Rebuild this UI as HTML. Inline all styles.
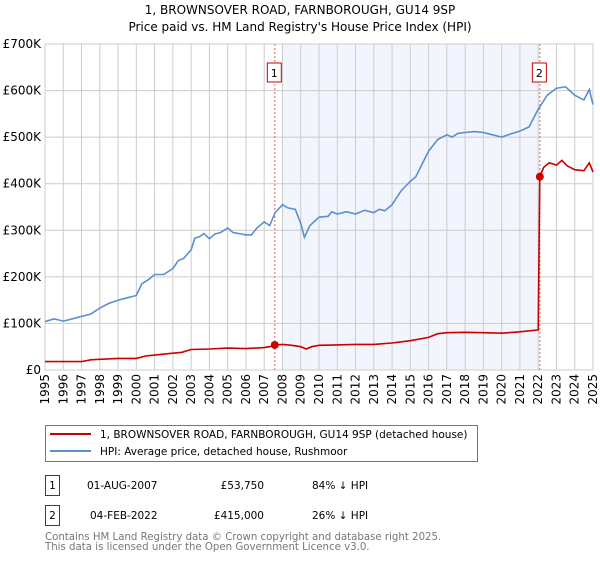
<!DOCTYPE html>
<html><head><meta charset="utf-8"><style>
body{margin:0;background:#fff;width:600px;height:560px;overflow:hidden;font-family:"DejaVu Sans","Liberation Sans",sans-serif}
svg text{font-family:"DejaVu Sans","Liberation Sans",sans-serif}
</style></head><body>
<svg id="c" width="600" height="560">
<text x="300" y="14" text-anchor="middle" font-size="12">1, BROWNSOVER ROAD, FARNBOROUGH, GU14 9SP</text>
<text x="300" y="31" text-anchor="middle" font-size="12">Price paid vs. HM Land Registry's House Price Index (HPI)</text>
<g id="plot"></g>
<rect x="45.5" y="425.5" width="432" height="36" fill="#fff" stroke="#777"/>
<line x1="50" y1="434" x2="91" y2="434" stroke="#cc0000" stroke-width="2"/>
<text x="100" y="438" font-size="10.5">1, BROWNSOVER ROAD, FARNBOROUGH, GU14 9SP (detached house)</text>
<line x1="50" y1="451" x2="91" y2="451" stroke="#5b8fd0" stroke-width="2"/>
<text x="100" y="455" font-size="10.5">HPI: Average price, detached house, Rushmoor</text>
<g font-size="10.5">
<rect x="45.5" y="475.5" width="14" height="20" fill="none" stroke="#cc0000"/>
<text x="52.5" y="489" text-anchor="middle">1</text>
<text x="87" y="489">01-AUG-2007</text>
<text x="264" y="489" text-anchor="end">£53,750</text>
<text x="312" y="489">84% ↓ HPI</text>
<rect x="45.5" y="505.5" width="14" height="20" fill="none" stroke="#cc0000"/>
<text x="52.5" y="519" text-anchor="middle">2</text>
<text x="90" y="519">04-FEB-2022</text>
<text x="264" y="519" text-anchor="end">£415,000</text>
<text x="312" y="519">26% ↓ HPI</text>
</g>
<text x="45" y="540" font-size="10.2" fill="#777">Contains HM Land Registry data © Crown copyright and database right 2025.</text>
<text x="45" y="550" font-size="10.2" fill="#777">This data is licensed under the Open Government Licence v3.0.</text>
</svg>
<script>
const hpiYears=[1995,1995.5,1996,1996.5,1997,1997.5,1998,1998.5,1999,1999.5,2000,2000.3,2000.7,2001,2001.5,2002,2002.3,2002.6,2003,2003.2,2003.5,2003.7,2004,2004.3,2004.6,2005,2005.3,2005.6,2006,2006.3,2006.6,2007,2007.3,2007.6,2008,2008.3,2008.7,2009,2009.2,2009.5,2010,2010.5,2010.7,2011,2011.5,2012,2012.5,2013,2013.3,2013.6,2014,2014.5,2015,2015.3,2016,2016.5,2017,2017.3,2017.6,2018,2018.5,2019,2019.5,2020,2020.5,2021,2021.5,2022,2022.5,2023,2023.5,2024,2024.5,2024.8,2025];
const hpiValues=[104,110,105,110,115,120,133,143,150,155,160,185,195,205,205,218,235,240,258,283,287,293,282,292,295,305,295,293,290,290,305,318,310,338,355,348,345,315,285,310,328,330,340,335,340,335,343,338,345,342,355,385,405,415,470,495,505,500,508,510,512,510,505,500,507,513,522,560,590,605,608,590,580,602,570];
const propYears=[1995,1997,1997.5,1998,1999,2000,2000.5,2001,2002,2002.5,2003,2004,2005,2006,2007,2007.3,2007.58,2008,2008.5,2009,2009.3,2009.6,2010,2011,2012,2013,2014,2015,2016,2016.5,2017,2018,2019,2020,2021,2022,2022.09,2022.3,2022.6,2023,2023.3,2023.6,2024,2024.5,2024.8,2025];
const propValues=[18,18,22,23,25,25,30,32,36,38,44,45,47,46,48,50,53.75,55,53,50,45,50,53,54,55,55,58,63,70,78,80,81,80,79,82,86,415,435,445,440,450,438,430,428,445,425];
const saleYears=[2007.58,2022.09];
const saleValues=[53.75,415];
const saleLabels=["1","2"];
const yTicks=[0,100,200,300,400,500,600,700];
const yTickLabels=["£0","£100K","£200K","£300K","£400K","£500K","£600K","£700K"];
const xTicks=[1995,1996,1997,1998,1999,2000,2001,2002,2003,2004,2005,2006,2007,2008,2009,2010,2011,2012,2013,2014,2015,2016,2017,2018,2019,2020,2021,2022,2023,2024,2025];

const X0=45,X1=593,Y0=370,Y1=44;
const sx=y=>X0+(y-1995)/30*(X1-X0);
const sy=v=>Y0-v/700*(Y0-Y1);
const NS="http://www.w3.org/2000/svg";
const g=document.getElementById('plot');
function mk(t,a){const e=document.createElementNS(NS,t);for(const k in a)e.setAttribute(k,a[k]);g.appendChild(e);return e;}
let e=mk('rect',{x:sx(2008),y:Y1,width:sx(2022)-sx(2008),height:Y0-Y1,fill:'#f2f5fd'});


xTicks.forEach(t=>{
 let l=mk('line',{x1:sx(t),x2:sx(t),y1:Y1,y2:Y0,stroke:'#cccccc'});
 
 
 let tx=mk('text',{x:0,y:0,'font-size':12,'text-anchor':'end',transform:`translate(${sx(t)+4},${Y0+4}) rotate(-90)`});
 tx.textContent=t;
 
 
});
yTicks.forEach((t,i)=>{
 let l=mk('line',{x1:X0,x2:X1,y1:sy(t),y2:sy(t),stroke:'#cccccc'});
 
 
 let tx=mk('text',{x:X0-4,y:sy(t)+4,'font-size':12,'text-anchor':'end'});
 tx.textContent=yTickLabels[i];
 
 
});
let ax=mk('rect',{x:X0,y:Y1,width:X1-X0,height:Y0-Y1,fill:'none',stroke:'#cccccc'});


saleYears.forEach((y,i)=>{
 let l=mk('line',{x1:sx(y),x2:sx(y),y1:Y1,y2:Y0,stroke:'#e06060','stroke-dasharray':'2,2'});
 
 
 let r=mk('rect',{x:sx(y)-7.5,y:63,width:14,height:19,fill:'#fff',stroke:'#cc0000'});
 
 
 let t=mk('text',{x:sx(y)-0.5,y:77,'font-size':11,'text-anchor':'middle'});
 t.textContent=saleLabels[i];
 
 
});
const pts=(xs,vs)=>xs.map((x,i)=>sx(x).toFixed(1)+','+sy(vs[i]).toFixed(1)).join(' ');
let h=mk('polyline',{points:pts(hpiYears,hpiValues),fill:'none',stroke:'#5b8fd0','stroke-width':1.6});


let p=mk('polyline',{points:pts(propYears,propValues),fill:'none',stroke:'#cc0000','stroke-width':1.6});


saleYears.forEach((y,i)=>{
 let d=mk('circle',{cx:sx(y),cy:sy(saleValues[i]),r:4,fill:'#cc0000'});
 
 
});
</script>
</body></html>
